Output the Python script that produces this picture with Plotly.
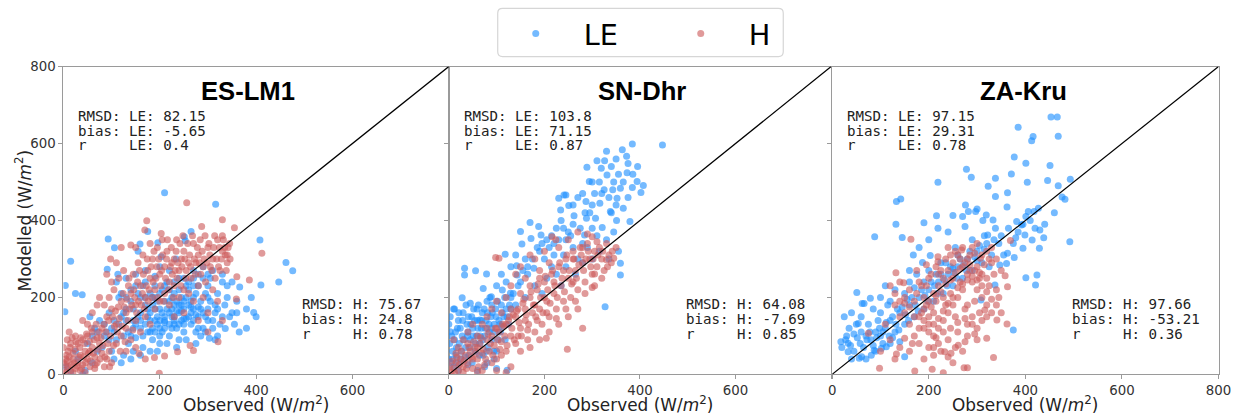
import plotly.graph_objects as go

# ---------------- data ----------------
sites = ["ES-LM1", "SN-Dhr", "ZA-Kru"]
tick_vals = [0, 200, 400, 600, 800]

es_le = [(210,472),(316,442),(93,352),(106,329),(15,294),(4,231),(3,163),(408,349),(462,291),(476,269),
         (447,240),(410,232),(366,227),(395,161),(350,160),(336,119),(303,94),(265,371),(253,347),(175,371),
         (196,342),(159,339),(155,320),(25,210),(39,207),(91,273),(113,260),(203,306),(234,300),(251,358),
         (120,150),(130,170),(140,190),(150,130),(160,160),(170,180),(180,140),(190,200),(200,170),(210,150),
         (220,190),(230,210),(240,160),(250,130),(260,180),(270,200),(280,150),(290,120),(300,170),(310,140),
         (320,100),(330,150),(125,100),(135,80),(145,120),(155,210),(165,230),(175,110),(185,90),(195,130),
         (205,220),(215,240),(225,170),(235,120),(245,200),(255,230),(265,160),(275,110),(285,190),(295,210),
         (305,250),(315,180),(100,120),(105,140),(110,90),(115,200),(90,110),(95,160),(80,70),(85,130),
         (70,60),(60,100),(75,140),(65,120),(50,80),(55,150),(110,240),(130,250),(150,260),(170,270),
         (190,255),(200,280),(220,270),(240,250),(260,240),(280,230),(300,260),(320,210),(340,230),(360,190),
         (380,120),(350,240),(330,260),(310,270),(290,280),(270,270),(180,60),(200,80),(220,100),(240,90),
         (160,50),(140,40),(120,30),(100,60),(210,120),(230,140),(250,110),(170,200),(190,170),(210,190),
         (230,180),(250,170),(270,140),(160,140),(180,160),(200,140),(220,130),(240,130),(130,140),(145,170),
         (185,120),(205,110),(225,150),(245,140),(265,130),(285,100),(5,20),(15,5),(30,40),(45,10),
         (25,60),(60,30),(70,110),(40,0),
         (140,100),(150,95),(160,120),(170,130),(180,110),(190,140),(200,120),(210,135),(220,160),(230,150),
         (240,180),(250,190),(260,150),(270,170),(280,175),(290,160),(300,140),(310,120),(200,100),(190,110),
         (175,150),(165,100),(155,150),(145,140),(135,110),(125,160),(115,130),(105,110),(95,90),(85,100),
         (215,170),(225,200),(235,190),(245,165),(255,145),(265,190),(275,210),(285,170),(295,150),(305,190),
         (315,160),(325,130),(335,180),(345,150),(355,130),(365,110),(290,250),(280,260),(270,230),(260,220),
         (250,250),(240,220),(230,240),(220,220),(210,230),(200,210),(190,230),(180,210),(170,240),(160,200),
         (150,230),(140,220),(130,200),(120,210),(215,80),(235,70),(255,90),(275,80),(295,110),(315,90),
         (195,60),(165,70),(145,60),(125,50),(105,40),(205,160),(185,180),(195,190),(175,170),(235,165),
         (245,180),(265,175),(255,200),(275,155),(225,120),(210,140),(230,130),(250,145),(195,150),(185,200),
         (280,120),(300,200),(320,170),(340,200),(360,160),(380,170),(390,200),(400,150),(330,240),(300,230),
         (270,250)]
es_h = [(256,446),(173,399),(330,402),(355,381),(287,384),(412,315),(386,245),(360,254),(359,196),(199,3),
        (210,48),(189,44),(237,59),(321,85),(263,75),(270,62),(157,54),(203,366),(169,375),(140,336),(98,300),
        (5,5),(10,20),(15,10),(20,40),(25,15),(30,30),(35,50),(40,25),(45,60),(50,40),(55,20),(60,70),(65,45),
        (70,30),(75,80),(80,55),(5,40),(10,60),(15,80),(20,55),(0,30),(0,70),(8,90),(12,110),(30,80),(40,90),
        (50,100),(25,100),(60,110),(70,95),(35,10),(45,5),(55,60),(65,15),(85,20),(90,40),(100,30),(95,60),
        (20,5),(28,22),
        (80,120),(90,150),(100,170),(110,130),(120,190),(130,160),(140,210),(150,180),(160,230),(170,200),
        (180,250),(190,220),(200,260),(210,280),(220,240),(230,300),(240,270),(250,320),(260,290),(270,340),
        (280,310),(290,280),(300,330),(310,300),(320,350),(330,320),(340,290),(85,180),(95,200),(105,220),
        (115,250),(125,270),(135,230),(145,260),(155,290),(165,310),(175,270),(185,300),(195,330),(205,350),
        (215,320),(225,290),(235,350),(245,300),(255,270),(265,250),(275,290),(285,260),(295,240),(305,280),
        (315,250),(325,270),(335,330),(345,340),(110,80),(120,100),(130,120),(140,90),(150,140),(160,110),
        (170,150),(180,130),(190,170),(200,190),(210,210),(220,180),(230,230),(240,200),(250,220),(260,210),
        (270,190),(280,230),(290,200),(300,160),(310,220),(320,190),(330,140),(100,240),(90,260),(110,290),
        (120,330),(150,330),(180,340),(60,160),(70,180),(50,130),(40,140),(75,200),(130,60),(150,70),(170,40),
        (280,140),(300,110),(230,150),(250,160),(340,310),(330,360),
        (2,10),(4,25),(6,50),(8,35),(12,45),(14,70),(16,25),(18,95),(22,30),(24,65),(26,85),(32,45),(34,70),
        (36,95),(38,15),(42,45),(44,80),(46,30),(48,105),(52,55),(54,85),(56,35),(58,120),(62,55),(64,90),
        (66,25),(68,130),(72,65),(74,110),(76,40),(78,95),(82,75),(84,130),(86,45),(88,110),(92,80),(94,140),
        (96,20),(98,100),(102,150),(104,75),(106,125),(108,165),(112,110),(114,175),(116,145),(118,60),
        (122,125),(124,210),(126,175),(128,85),(132,195),(134,140),(136,250),(138,170),(142,180),(144,115),
        (146,220),(148,200),(152,160),(154,240),(156,190),(158,270),(162,180),(164,210),(166,260),(168,170),
        (172,230),(174,300),(176,190),(178,220),(182,280),(184,200),(186,240),(188,320),(192,250),(194,280),
        (196,200),(198,300),(202,230),(204,270),(206,310),(208,190),(212,250),(214,300),(216,350),(218,220),
        (222,280),(224,330),(226,260),(228,200),(232,270),(234,320),(236,250),(238,290),(242,340),(244,230),
        (246,280),(248,360),(252,300),(254,250),(258,340),(262,310),(264,280),(268,360),(272,300),(274,260),
        (278,330),(282,290),(284,350),(288,320),(292,300),(294,360),(298,290),(302,340),(304,310),(308,270),
        (312,330),(314,360),(318,300),(322,280),(324,330),(328,300),(332,350),(336,310),(338,270),(342,330),
        (346,300)]

sn_le = [(447,596),(384,599),(363,584),(372,567),(375,548),(310,555),(326,555),(289,538),(319,536),(294,501),
         (331,518),(373,524),(407,491),(402,473),(241,466),(245,466),(230,458),(343,480),(359,484),(384,486),
         (394,501),(352,458),(287,449),(316,445),(338,423),(351,400),(379,397),(365,432),(251,439),(234,427),
         (262,412),(288,406),(307,406),(321,382),(284,362),(359,289),(359,258),(327,176),(170,395),(188,384),
         (150,371),(193,362),(172,353),(153,339),(118,312),(33,276),(33,258),(56,269),(79,261),(28,199),
         (45,185),(10,170),(3,111),(72,223),(112,219),(129,211),(142,282),(143,258),(178,276),(89,202),
         (65,141),(122,11),
         (200,300),(210,330),(220,310),(230,350),(250,370),(260,330),(270,300),(280,340),(300,380),(310,360),
         (330,350),(340,420),(350,440),(300,440),(270,460),(320,470),(260,390),(240,310),(215,280),(190,320),
         (160,300),(140,310),(130,280),(120,240),(100,230),(110,260),(90,180),(150,240),(165,260),(180,230),
         (205,250),(225,260),(245,280),(265,260),(290,330),(315,320),(335,300),(355,320),(345,370),(300,300),
         (280,290),(235,230),(195,210),(160,200),(140,180),(120,170),
         (5,30),(8,60),(12,90),(15,50),(18,120),(20,140),(22,80),(25,40),(28,100),(30,160),(35,70),(38,130),
         (40,110),(42,50),(45,90),(48,150),(50,120),(52,170),(55,60),(58,100),(60,140),(62,180),(65,80),
         (68,120),(70,160),(72,50),(75,100),(78,140),(80,190),(82,70),(85,110),(88,150),(90,90),(95,130),
         (98,170),(100,60),(105,140),(108,110),(110,180),(115,150),(118,90),(125,130),(130,200),(0,130),
         (2,80),(0,40),(10,20),(20,10),(40,25),(60,10),(80,30),(100,15),(95,40),(75,20),(130,170),(110,125),
         (3,150),(6,100),(9,40),(12,170),(14,110),(16,70),(19,30),(21,160),(24,120),(26,60),(29,140),(32,90),
         (34,45),(36,180),(39,100),(41,150),(44,70),(46,130),(49,30),(51,100),(54,140),(56,80),(59,170),
         (61,120),(64,50),(66,100),(69,140),(71,90),(74,170),(76,120),(79,60),(81,160),(84,130),(86,200),
         (89,120),(91,160),(94,60),(96,110),(99,150),(102,190),(104,90),(107,130),(112,160),(117,200),
         (122,150),(127,180),(135,210),(145,230),(155,270),(165,280),(175,300),(185,330),(195,340),(205,350),
         (215,360),(225,380),(235,400),(245,350),(255,360),(275,380),(285,420),(295,420),(305,470),(315,500),
         (325,480),(335,460),(345,500),(355,520),(365,500),(375,460),(385,520),(395,540),(340,540),(330,580),
         (350,560),(300,500),(280,470),(260,440),(240,380),(220,340)]
sn_h = [(98,304),(105,302),(170,310),(216,358),(224,350),(300,358),(310,345),(248,65),(204,94),(280,120),
        (345,302),(330,298),(305,261),(300,226),
        (5,5),(10,15),(15,30),(20,10),(25,40),(30,20),(35,50),(40,30),(45,60),(50,15),(55,70),(60,40),
        (65,80),(70,55),(75,25),(80,90),(85,60),(90,100),(95,75),(100,40),(105,110),(110,85),(115,125),
        (120,60),(125,140),(130,100),(135,155),(140,80),(145,170),(150,120),(155,185),(160,140),(165,90),
        (170,200),(175,160),(180,110),(185,220),(190,170),(195,130),(200,240),(205,190),(210,150),(215,260),
        (220,210),(225,170),(230,280),(235,230),(240,190),(245,300),(250,250),(255,200),(260,320),(265,270),
        (270,220),(275,330),(280,290),(285,240),(290,340),(295,300),(300,260),(305,320),(310,280),(315,330),
        (320,300),(325,270),(330,340),(335,310),(340,290),(350,330),(20,70),(30,90),(40,110),(50,130),
        (60,100),(70,130),(80,150),(90,170),(100,190),(110,160),(120,200),(130,230),(140,260),(150,280),
        (160,250),(180,300),(190,270),(200,320),(230,330),(250,350),(270,370),(290,365),(260,300),(240,270),
        (220,240),(200,200),(180,180),(160,170),(140,150),(120,130),(100,120),(80,120),(60,70),(40,80),
        (15,55),(10,90),(50,40),(70,10),(90,30),(110,50),(130,20),(150,60),(170,70),(190,90),(210,110),
        (230,130),(250,150),(270,170),(120,5),(60,5),(30,5),(100,10),(145,100),(165,115),(185,140),(205,160),
        (225,145),(245,170),(265,190),(285,210),(305,230),(320,250),
        (2,20),(7,35),(12,5),(17,45),(22,25),(27,60),(32,35),(37,15),(42,70),(47,45),(52,85),(57,55),(62,20),
        (67,95),(72,65),(77,40),(82,105),(87,80),(92,50),(97,120),(102,90),(107,65),(112,130),(117,100),
        (122,75),(127,150),(132,120),(137,90),(142,165),(147,135),(152,100),(157,195),(162,155),(167,130),
        (172,215),(177,180),(182,150),(187,235),(192,200),(197,160),(202,255),(207,220),(212,185),(217,270),
        (222,230),(227,200),(232,290),(237,250),(242,215),(247,310),(252,270),(257,235),(262,300),(267,250),
        (272,285),(277,310),(282,270),(287,300),(292,320),(297,280),(302,300),(312,310),(322,320),(332,280),
        (342,320),(260,240),(280,330),(210,290),(190,250),(170,230),(150,210),(130,170)]

za_le = [(453,669),(466,669),(468,619),(385,642),(416,618),(413,607),(377,565),(401,549),(451,543),(278,533),
         (288,512),(371,521),(338,510),(404,499),(446,504),(468,490),(493,507),(323,489),(219,499),(142,456),
         (133,449),(476,461),(482,455),(338,462),(363,472),(276,440),(362,435),(427,432),(282,423),(297,423),
         (319,414),(132,390),(190,394),(219,380),(250,413),(216,412),(312,400),(333,401),(275,384),(382,397),
         (392,388),(401,410),(406,423),(418,423),(430,375),(438,355),(492,345),(88,358),(145,356),(322,362),
         (338,380),(399,362),(380,355),(414,349),(429,328),(395,328),(363,315),(377,304),(347,284),(361,288),
         (401,251),(424,258),(421,232),(337,232),(308,193),(375,115),(168,310),(187,291),(203,309),(51,213),
         (79,198),(62,184),(66,184),(54,132),(50,130),(18,85),(33,81),(33,59),(56,42),(61,46),(81,50),(87,63),
         (102,68),(112,72),(150,46),
         (100,100),(110,120),(120,140),(130,110),(140,160),(150,130),(160,180),(170,150),(180,200),(190,170),
         (200,220),(210,190),(220,240),(230,210),(240,260),(250,230),(260,280),(270,250),(280,300),(290,270),
         (300,320),(310,290),(320,340),(330,310),(150,210),(130,220),(120,190),(160,240),(175,260),(200,270),
         (225,290),(255,330),(290,350),(315,360),(345,340),(355,310),(90,110),(80,90),(70,100),(95,140),
         (105,80),(125,95),(140,85),(60,110),(45,105),(35,120),(25,150),(40,160),(100,160),(115,180),(235,290),
         (260,310),(190,240),(215,260),(300,295),(325,280),(250,275),(170,225),(155,195),(135,170),(85,170),
         (75,130),(30,100),
         (20,70),(28,90),(38,75),(45,60),(52,95),(58,80),(65,70),(72,90),(78,110),(85,75),(92,95),(98,120),
         (105,110),(112,135),(118,100),(125,150),(132,130),(138,115),(145,175),(152,155),(158,140),(165,200),
         (172,180),(178,165),(185,220),(192,205),(198,190),(205,240),(212,230),(218,210),(225,260),(232,245),
         (238,230),(245,280),(252,265),(258,250),(265,300),(272,285),(278,270),(285,320),(295,305),(305,335),
         (315,325),(335,350),(350,360),(365,380),(375,340),(385,370),(395,390),(410,400),(420,380),(440,390),
         (460,420),(180,330),(160,270),(200,350),(240,370),(270,410),(300,430),(100,200),(110,230),(60,150),
         (90,60),(120,80),(70,40),(40,40)]
za_h = [(163,351),(132,264),(148,238),(219,306),(219,293),(268,323),(295,315),(307,302),(358,256),(369,348),
        (363,228),(362,131),(341,141),(320,94),(334,44),(171,9),(98,16),(207,13),(230,4),(273,17),(280,17),
        (133,53),(150,94),(166,80),(75,107),(233,59),(246,55),(261,76),(275,85),(316,167),
        (180,150),(190,170),(200,190),(210,210),(220,230),(230,250),(240,270),(250,290),(260,310),(270,280),
        (280,260),(290,240),(300,220),(310,200),(320,180),(330,160),(340,220),(350,270),(200,130),(210,100),
        (220,120),(230,140),(240,160),(250,180),(260,200),(270,220),(280,180),(290,150),(300,120),(310,140),
        (320,250),(330,290),(340,300),(300,280),(310,310),(280,300),(250,250),(230,200),(210,160),(190,120),
        (170,100),(160,130),(150,160),(140,190),(130,210),(120,230),(140,240),(160,220),(180,240),(200,250),
        (220,260),(190,200),(170,190),(150,200),(200,70),(220,80),(240,90),(260,110),(280,130),(300,90),
        (190,40),(210,50),(250,30),(270,60),(180,80),(160,60),(140,70),(120,90),(110,130),(100,60),(130,40),
        (245,210),(265,240),(285,270),(305,250),(325,230),(345,200),(235,180),(255,150),(275,170),(295,190),
        (215,190),(195,230),(175,270),(195,285),(215,280),(235,300),(255,320),(290,330),(270,330),(240,330),
        (310,260),
        (185,160),(195,180),(205,175),(215,205),(225,215),(235,235),(245,245),(255,265),(265,275),(275,290),
        (285,285),(295,270),(305,265),(315,285),(325,300),(335,260),(190,140),(200,150),(210,130),(220,145),
        (230,165),(240,185),(250,200),(260,225),(270,235),(280,245),(290,255),(300,245),(310,230),(320,215),
        (330,195),(340,180),(350,160),(200,110),(215,95),(230,110),(245,120),(260,135),(275,145),(290,130),
        (305,160),(320,150),(210,70),(225,60),(240,45),(255,70),(280,100),(295,105),(180,120),(170,150),
        (160,175),(150,185),(140,150),(130,180),(175,210),(185,230),(205,260),(225,270),(245,310),(265,300),
        (285,310),(300,340),(320,320),(330,330)]

le_points = [es_le, sn_le, za_le]
h_points = [es_h, sn_h, za_h]

rmsd_le = ["82.15", "103.8", "97.15"]
bias_le = ["-5.65", "71.15", "29.31"]
r_le = ["0.4", "0.87", "0.78"]
rmsd_h = ["75.67", "64.08", "97.66"]
bias_h = ["24.8", "-7.69", "-53.21"]
r_h = ["0.78", "0.85", "0.36"]

# ---------------- layout geometry ----------------
# the captured picture maps figure pixels to picture pixels as  pic = O + S * fig
SX, OX, SY, OY = 0.988, 2.5, 0.962, 7.6
W, H = 1253, 423


def fx(px):
    return ((px - OX) / SX) / W


def fy(py):
    return 1 - ((py - OY) / SY) / H


px_left = [62, 448, 832]
px_right = [448, 831, 1219]
py_top, py_bot = 67, 374
ydom = [fy(py_bot), fy(py_top)]
FS = 1 / 0.975  # font compensation

LE_COLOR = "rgba(30,144,255,0.62)"
H_COLOR = "rgba(205,92,92,0.62)"
FRAME = "#9a9a9a"
TXT = "#333333"
NB = "\u00a0"

fig = go.Figure()
layout = dict(width=W, height=H, margin=dict(l=0, r=0, t=0, b=0),
              plot_bgcolor="white", paper_bgcolor="white", showlegend=True)
annotations = []
shapes = []

title_x = [384, 405, 397]

for i in range(3):
    sfx = "" if i == 0 else str(i + 1)
    xa, ya = "x" + sfx, "y" + sfx
    le = le_points[i]
    hh = h_points[i]
    fig.add_trace(go.Scatter(x=[p[0] for p in le], y=[p[1] for p in le], mode="markers",
                             name="LE", legendgroup="LE", showlegend=(i == 0),
                             marker=dict(color=LE_COLOR, size=7, line=dict(width=0)),
                             xaxis=xa, yaxis=ya))
    fig.add_trace(go.Scatter(x=[p[0] for p in hh], y=[p[1] for p in hh], mode="markers",
                             name="H", legendgroup="H", showlegend=(i == 0),
                             marker=dict(color=H_COLOR, size=7, line=dict(width=0)),
                             xaxis=xa, yaxis=ya))
    xt = [str(v) for v in tick_vals]
    if i < 2:
        xt[-1] = " "
    layout["xaxis" + sfx] = dict(domain=[fx(px_left[i]), fx(px_right[i])], range=[0, 800],
                                 anchor=ya, tickvals=tick_vals, ticktext=xt, ticklabeloverflow="allow",
                                 showgrid=False, zeroline=False, showline=True, mirror=True,
                                 linecolor=FRAME, linewidth=1, ticks="outside", ticklen=4,
                                 tickcolor=FRAME, tickfont=dict(family="DejaVu Sans", size=13 * FS, color=TXT))
    layout["yaxis" + sfx] = dict(domain=ydom, range=[0, 800], anchor=xa, tickvals=tick_vals,
                                 showticklabels=(i == 0),
                                 showgrid=False, zeroline=False, showline=True, mirror=True,
                                 linecolor=FRAME, linewidth=1, ticks="outside", ticklen=4,
                                 tickcolor=FRAME, tickfont=dict(family="DejaVu Sans", size=13 * FS, color=TXT))
    shapes.append(dict(type="line", xref=xa, yref=ya, x0=0, y0=0, x1=800, y1=800,
                       line=dict(color="black", width=1.2), layer="above"))
    annotations.append(dict(xref=xa, yref=ya, x=title_x[i], y=736, text="<b>" + sites[i] + "</b>",
                            showarrow=False, xanchor="center", yanchor="middle",
                            font=dict(family="Liberation Sans", size=25 * FS, color="black")))
    top_lines = ["RMSD:" + NB + "LE:" + NB + rmsd_le[i],
                 "bias:" + NB + "LE:" + NB + bias_le[i],
                 "r" + NB * 5 + "LE:" + NB + r_le[i]]
    bot_lines = ["RMSD:" + NB + "H:" + NB + rmsd_h[i],
                 "bias:" + NB + "H:" + NB + bias_h[i],
                 "r" + NB * 5 + "H:" + NB + r_h[i]]
    for tl, yy in zip(top_lines, [672, 632, 595]):
        annotations.append(dict(xref=xa, yref=ya, x=27, y=yy, text=tl, showarrow=False,
                                xanchor="left", yanchor="middle",
                                font=dict(family="DejaVu Sans Mono", size=13.8 * FS, color="#222")))
    for bl, yy in zip(bot_lines, [182, 143, 106]):
        annotations.append(dict(xref=xa, yref=ya, x=492, y=yy, text=bl, showarrow=False,
                                xanchor="left", yanchor="middle",
                                font=dict(family="DejaVu Sans Mono", size=13.8 * FS, color="#222")))
    annotations.append(dict(xref="paper", yref="paper",
                            x=fx((px_left[i] + px_right[i]) / 2), y=fy(404),
                            text="Observed (W/<i>m</i><sup>2</sup>)", showarrow=False,
                            xanchor="center", yanchor="middle",
                            font=dict(family="DejaVu Sans", size=16.5 * FS, color="#222")))

annotations.append(dict(xref="paper", yref="paper", x=fx(22.5), y=fy(220.5),
                        text="Modelled (W/<i>m</i><sup>2</sup>)", textangle=-90, showarrow=False,
                        xanchor="center", yanchor="middle",
                        font=dict(family="DejaVu Sans", size=16.5 * FS, color="#222")))

# rounded legend frame
lx0, lx1, ly0, ly1, rr = fx(497), fx(783), fy(57), fy(9), 0.004
ry = rr * W / H
shapes.append(dict(type="path", xref="paper", yref="paper", layer="below",
                   path=(f"M {lx0+rr},{ly0} L {lx1-rr},{ly0} Q {lx1},{ly0} {lx1},{ly0+ry} "
                         f"L {lx1},{ly1-ry} Q {lx1},{ly1} {lx1-rr},{ly1} L {lx0+rr},{ly1} "
                         f"Q {lx0},{ly1} {lx0},{ly1-ry} L {lx0},{ly0+ry} Q {lx0},{ly0} {lx0+rr},{ly0} Z"),
                   line=dict(color="#d6d6d6", width=1.2), fillcolor="white"))

layout["annotations"] = annotations
layout["shapes"] = shapes
layout["legend"] = dict(orientation="h", x=fx(487), xanchor="left", y=fy(9), yanchor="top",
                        borderwidth=0, bgcolor="rgba(0,0,0,0)",
                        font=dict(family="DejaVu Sans", size=28 * FS, color="black"),
                        itemwidth=86, entrywidth=64, entrywidthmode="pixels")
fig.update_layout(**layout)
fig.write_html("out.html")
